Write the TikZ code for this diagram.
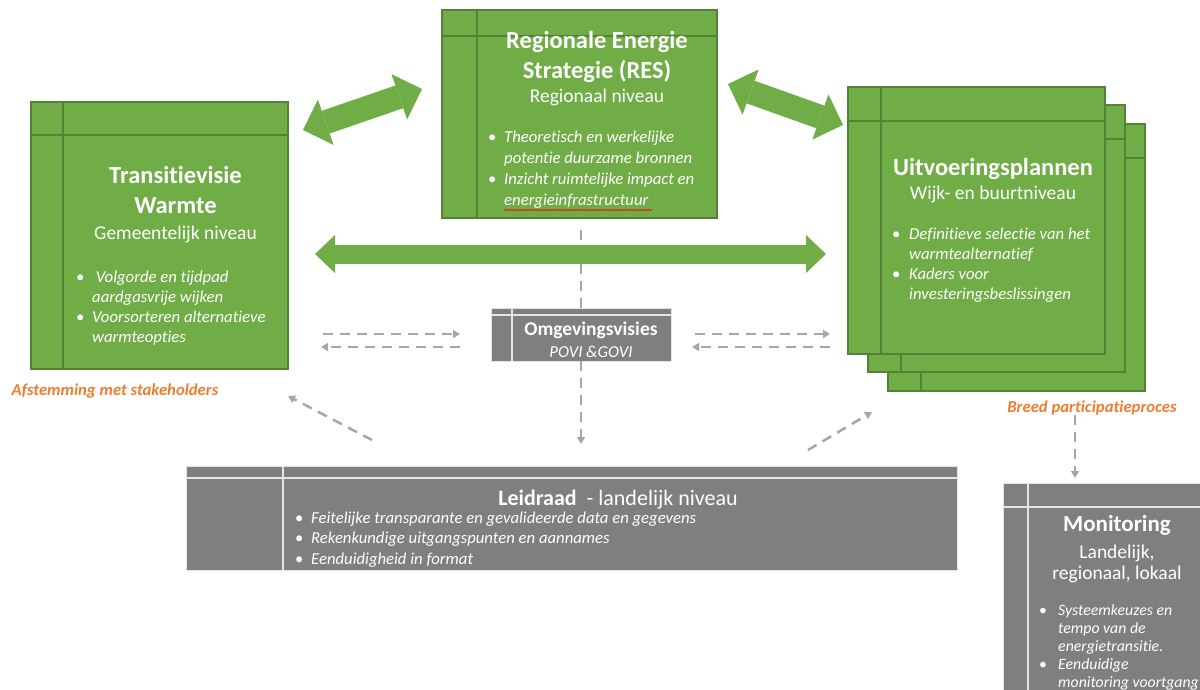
\documentclass[tikz,border=0pt]{standalone}
\usepackage{fontspec}
\setmainfont{Carlito}[Ligatures=NoCommon]
\usetikzlibrary{arrows.meta,calc,decorations.pathmorphing}
\definecolor{cGreen}{HTML}{70AD47}
\definecolor{cGreenDark}{HTML}{538135}
\definecolor{cGray}{HTML}{7F7F7F}
\definecolor{cGrayLine}{HTML}{E4E4E4}
\definecolor{cDash}{HTML}{A6A6A6}
\definecolor{cOrange}{HTML}{ED7D31}
\newcommand\bu{{\upshape\textbullet}}
\newcommand\boxlines[4]{%
  \draw[#4] ($(#1.north west)+(#2,0)$) -- ($(#1.south west)+(#2,0)$);
  \draw[#4] ($(#1.north west)+(0,#3)$) -- ($(#1.north east)+(0,#3)$);}
\begin{document}
\begin{tikzpicture}[x=1pt,y=-1pt,
  gbox/.style={draw=cGreenDark, fill=cGreen, line width=1.3pt, inner sep=0pt, outer sep=0pt, anchor=north west, minimum width=257pt, minimum height=267pt},
  graybox/.style={draw=cGrayLine, fill=cGray, line width=0.8pt, inner sep=0pt, outer sep=0pt, anchor=north west},
  gline/.style={draw=cGreenDark, line width=1.3pt},
  wline/.style={draw=cGrayLine, line width=1.8pt},
  wtxt/.style={text=white, inner sep=0pt, anchor=base},
  ttl/.style={wtxt, font=\bfseries\fontsize{24.5}{30}\selectfont},
  subt/.style={wtxt, font=\fontsize{19.5}{21}\selectfont},
  blist/.style={text=white, inner sep=0pt, anchor=base west, font=\itshape\fontsize{16.7}{21}\selectfont},
  olabel/.style={text=cOrange, inner sep=0pt, anchor=base, font=\bfseries\itshape\fontsize{16.7}{18}\selectfont},
  fatarrow/.style={draw=cGreen, line width=24pt, {Triangle[length=24pt,width=48pt,line width=0pt]}-{Triangle[length=24pt,width=48pt,line width=0pt]}},
  hfatarrow/.style={draw=cGreen, line width=19pt, {Triangle[length=20pt,width=38pt,line width=0pt]}-{Triangle[length=20pt,width=38pt,line width=0pt]}},
  dconn/.style={draw=cDash, line width=2.5pt, dash pattern=on 10pt off 7pt},
  dtip/.style={-{Triangle[length=7pt,width=8pt]}},
]
\useasboundingbox (0,0) rectangle (1200,689);
\clip (0,0) rectangle (1200,689);

% ---------- RES ----------
\node[gbox, minimum width=275pt, minimum height=208pt] (res) at (442,10) {};
\boxlines{res}{35}{26}{gline}
\node[ttl] (resT) at (597,48) {\begin{tabular}[t]{@{}c@{}}Regionale Energie\\Strategie (RES)\end{tabular}};
\node[subt] (resS) at (597,102) {Regionaal niveau};
\node[blist] (resL) at (488,142) {\begin{tabular}[t]{@{}p{16pt}@{}l@{}}\bu & Theoretisch en werkelijke\\ & potentie duurzame bronnen\\ \bu & Inzicht ruimtelijke impact en\\ & energieinfrastructuur\end{tabular}};
\draw[red, line width=0.6pt, decorate, decoration={snake, amplitude=0.8pt, segment length=3pt}] (504,210) -- (652,210);

% ---------- Transitievisie Warmte ----------
\node[gbox] (tvw) at (31,102) {};
\boxlines{tvw}{32}{33}{gline}
\node[ttl] (tvwT) at (175.5,183) {\begin{tabular}[t]{@{}c@{}}Transitievisie\\Warmte\end{tabular}};
\node[subt] (tvwS) at (175.5,239) {Gemeentelijk niveau};
\node[blist, font=\itshape\fontsize{16.7}{20}\selectfont] (tvwL) at (76,282) {\begin{tabular}[t]{@{}p{16pt}@{}l@{}}\bu & \ Volgorde en tijdpad\\ & aardgasvrije wijken\\ \bu & Voorsorteren alternatieve\\ & warmteopties\end{tabular}};
\node[olabel] (afst) at (115,395) {Afstemming met stakeholders};

% ---------- Uitvoeringsplannen (stack) ----------
\node[gbox] (up3) at (888,124) {};
\boxlines{up3}{33}{34}{gline}
\node[gbox] (up2) at (868,105) {};
\boxlines{up2}{33}{34}{gline}
\node[gbox] (up) at (848,87) {};
\boxlines{up}{33}{34}{gline}
\node[ttl] (upT) at (993,175) {Uitvoeringsplannen};
\node[subt] (upS) at (993,199) {Wijk- en buurtniveau};
\node[blist, font=\itshape\fontsize{16.7}{20}\selectfont] (upL) at (892,239) {\begin{tabular}[t]{@{}p{17pt}@{}l@{}}\bu & Definitieve selectie van het\\ & warmtealternatief\\ \bu & Kaders voor\\ & investeringsbeslissingen\end{tabular}};
\node[olabel] (breed) at (1092,412) {Breed participatieproces};

% ---------- Omgevingsvisies ----------
\node[graybox, minimum width=180pt, minimum height=53pt] (omg) at (491,308) {};
\boxlines{omg}{21}{7}{wline}
\node[wtxt, font=\bfseries\fontsize{19.5}{20}\selectfont] (omgT) at (591,335) {Omgevingsvisies};
\node[wtxt, font=\itshape\fontsize{16.7}{18}\selectfont] (omgS) at (591,357) {POVI \&GOVI};

% ---------- Leidraad ----------
\node[graybox, minimum width=771pt, minimum height=104pt] (leid) at (186,466) {};
\boxlines{leid}{97}{12}{wline}
\node[wtxt, font=\fontsize{22}{22}\selectfont] (leidT) at (618,505) {\textbf{Leidraad}~ - landelijk niveau};
\node[blist, font=\itshape\fontsize{16.7}{20.5}\selectfont] (leidL) at (295,523) {\begin{tabular}[t]{@{}p{16pt}@{}l@{}}\bu & Feitelijke transparante en gevalideerde data en gegevens\\ \bu & Rekenkundige uitgangspunten en aannames\\ \bu & Eenduidigheid in format\end{tabular}};

% ---------- Monitoring ----------
\node[graybox, minimum width=205pt, minimum height=230pt] (mon) at (1003,483) {};
\boxlines{mon}{25}{24}{wline}
\node[ttl, font=\bfseries\fontsize{23}{30}\selectfont] (monT) at (1117,531) {Monitoring};
\node[subt] (monS) at (1117,558) {\begin{tabular}[t]{@{}c@{}}Landelijk,\\regionaal, lokaal\end{tabular}};
\node[blist, font=\itshape\fontsize{15.8}{18}\selectfont] (monL) at (1039,615) {\begin{tabular}[t]{@{}p{19pt}@{}l@{}}\bu & Systeemkeuzes en\\ & tempo van de\\ & energietransitie.\\ \bu & Eenduidige\\ & monitoring voortgang\end{tabular}};

% ---------- dashed connectors ----------
\coordinate (vTop) at (581,230);
\coordinate (vBot) at (581,444);
\draw[dconn] (vTop) -- (omg.north);
\draw[dconn, dtip] (omg.south) -- (vBot);
\coordinate (hl1) at (323,334); \coordinate (hl2) at (460,334);
\coordinate (hl3) at (460,347); \coordinate (hl4) at (321,347);
\coordinate (hr1) at (695,334); \coordinate (hr2) at (830,334);
\coordinate (hr3) at (830,347); \coordinate (hr4) at (692,347);
\draw[dconn, dtip] (hl1) -- (hl2);
\draw[dconn, dtip] (hl3) -- (hl4);
\draw[dconn, dtip] (hr1) -- (hr2);
\draw[dconn, dtip] (hr3) -- (hr4);
\coordinate (dl1) at (372,440); \coordinate (dl2) at (288,396);
\coordinate (dr1) at (808,450); \coordinate (dr2) at (872,412);
\draw[dconn, dtip] (dl1) -- (dl2);
\draw[dconn, dtip] (dr1) -- (dr2);
\coordinate (m1) at (1075,415);
\draw[dconn, dtip] (m1) -- ($(m1 |- mon.north)+(0,-5)$);

% ---------- green double arrows ----------
\coordinate (aL1) at (303,130); \coordinate (aL2) at (422,89);
\coordinate (aR1) at (728,84); \coordinate (aR2) at (843,125);
\coordinate (aH1) at (315,254); \coordinate (aH2) at (826,254);
\draw[fatarrow] (aL1) -- (aL2);
\draw[fatarrow] (aR1) -- (aR2);
\draw[hfatarrow] (aH1) -- (aH2);
\end{tikzpicture}
\end{document}
